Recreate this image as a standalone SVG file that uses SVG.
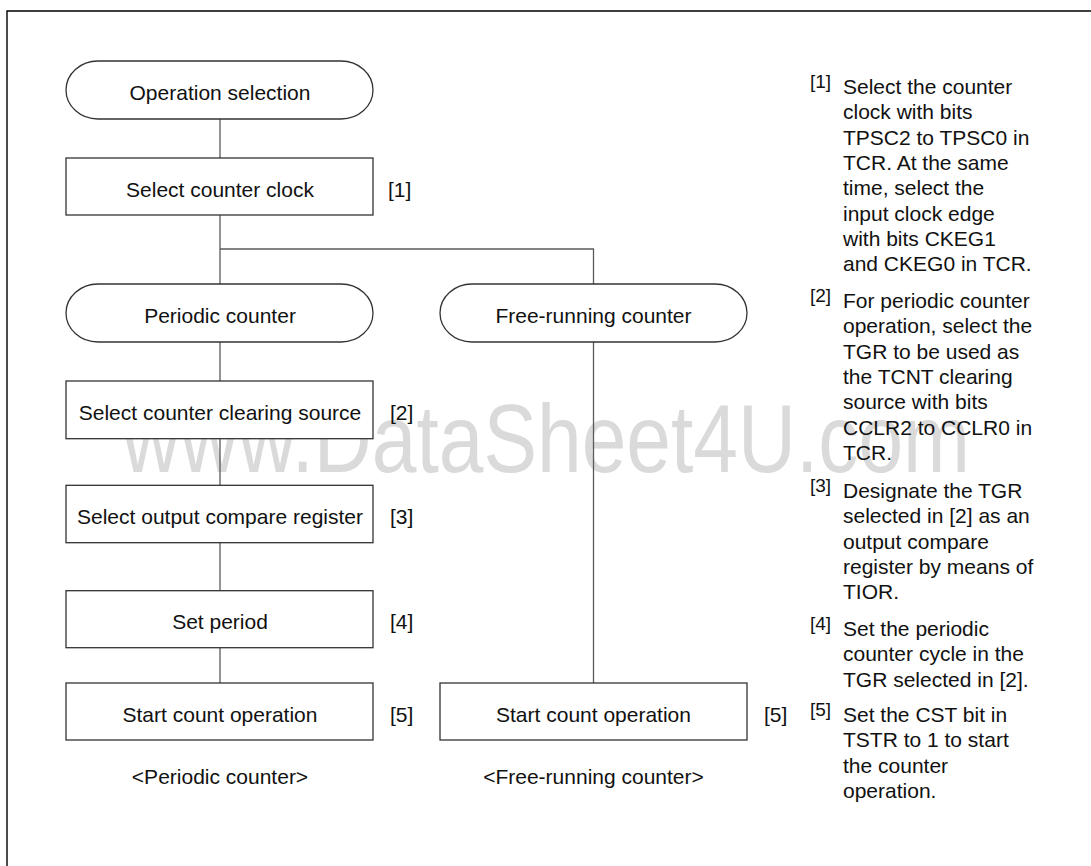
<svg xmlns="http://www.w3.org/2000/svg" width="1091" height="866" viewBox="0 0 1091 866">
<style>
text{font-family:"Liberation Sans",Arial,sans-serif;fill:#111}
.t{font-size:21px}
.m{text-anchor:middle}
.n{font-size:19px}
.box{fill:#fff;stroke:#333;stroke-width:1.3}
.ln{fill:none;stroke:#5a5a5a;stroke-width:1.3}
.wm{font-size:80px;fill:#dadada}
</style>
<rect width="1091" height="866" fill="#fff"/>
<path d="M7,866 V11 H1091" fill="none" stroke="#000" stroke-width="1.4"/>
<g transform="translate(122,472) scale(1,1.2)"><text class="wm" x="0" y="0" textLength="848" lengthAdjust="spacingAndGlyphs">www.DataSheet4U.com</text></g>
<g id="connectors">
<path class="ln" d="M220,119 V158"/>
<path class="ln" d="M220,215 V284"/>
<path class="ln" d="M220,249 H593.5 V284"/>
<path class="ln" d="M220,342 V381"/>
<path class="ln" d="M220,438.7 V485.3"/>
<path class="ln" d="M220,542.7 V590.7"/>
<path class="ln" d="M220,647.7 V683"/>
<path class="ln" d="M593.5,342 V683"/>
</g>
<g id="op-select"><rect class="box" x="66" y="61" width="307" height="58" rx="32" ry="29"/><text class="t m" x="220" y="100">Operation selection</text></g>
<g id="sel-clock"><rect class="box" x="66" y="158" width="307" height="57"/><text class="t m" x="220" y="197">Select counter clock</text><text class="t" x="388" y="197">[1]</text></g>
<g id="periodic"><rect class="box" x="66" y="284" width="307" height="58" rx="32" ry="29"/><text class="t m" x="220" y="323">Periodic counter</text></g>
<g id="free"><rect class="box" x="440" y="284" width="307" height="58" rx="32" ry="29"/><text class="t m" x="593.5" y="323">Free-running counter</text></g>
<g id="sel-clear"><rect class="box" x="66" y="381" width="307" height="57.7"/><text class="t m" x="220" y="420">Select counter clearing source</text><text class="t" x="390" y="420">[2]</text></g>
<g id="sel-ocr"><rect class="box" x="66" y="485.3" width="307" height="57.4"/><text class="t m" x="220" y="524">Select output compare register</text><text class="t" x="390" y="524">[3]</text></g>
<g id="set-period"><rect class="box" x="66" y="590.7" width="307" height="57"/><text class="t m" x="220" y="629">Set period</text><text class="t" x="390" y="629">[4]</text></g>
<g id="start-p"><rect class="box" x="66" y="683" width="307" height="57"/><text class="t m" x="220" y="721.5">Start count operation</text><text class="t" x="390" y="721.5">[5]</text></g>
<g id="start-f"><rect class="box" x="440" y="683" width="307" height="57"/><text class="t m" x="593.5" y="721.5">Start count operation</text><text class="t" x="764" y="721.5">[5]</text></g>
<g id="captions">
<text class="t m" x="220" y="784">&lt;Periodic counter&gt;</text>
<text class="t m" x="593.5" y="784">&lt;Free-running counter&gt;</text>
</g>
<g id="notes">
<text class="n" x="810" y="88">[1]</text>
<text class="t" x="843"><tspan x="843" y="94">Select the counter</tspan><tspan x="843" y="119.3">clock with bits</tspan><tspan x="843" y="144.6">TPSC2 to TPSC0 in</tspan><tspan x="843" y="170">TCR. At the same</tspan><tspan x="843" y="195.2">time, select the</tspan><tspan x="843" y="220.5">input clock edge</tspan><tspan x="843" y="245.8">with bits CKEG1</tspan><tspan x="843" y="271">and CKEG0 in TCR.</tspan></text>
<text class="n" x="810" y="302">[2]</text>
<text class="t" x="843"><tspan x="843" y="308">For periodic counter</tspan><tspan x="843" y="333.3">operation, select the</tspan><tspan x="843" y="358.6">TGR to be used as</tspan><tspan x="843" y="384">the TCNT clearing</tspan><tspan x="843" y="409.2">source with bits</tspan><tspan x="843" y="434.5">CCLR2 to CCLR0 in</tspan><tspan x="843" y="459.8">TCR.</tspan></text>
<text class="n" x="810" y="492">[3]</text>
<text class="t" x="843"><tspan x="843" y="498">Designate the TGR</tspan><tspan x="843" y="523.3">selected in [2] as an</tspan><tspan x="843" y="548.6">output compare</tspan><tspan x="843" y="574">register by means of</tspan><tspan x="843" y="599.2">TIOR.</tspan></text>
<text class="n" x="810" y="630">[4]</text>
<text class="t" x="843"><tspan x="843" y="636">Set the periodic</tspan><tspan x="843" y="661.3">counter cycle in the</tspan><tspan x="843" y="686.6">TGR selected in [2].</tspan></text>
<text class="n" x="810" y="716">[5]</text>
<text class="t" x="843"><tspan x="843" y="722">Set the CST bit in</tspan><tspan x="843" y="747.3">TSTR to 1 to start</tspan><tspan x="843" y="772.6">the counter</tspan><tspan x="843" y="798">operation.</tspan></text>
</g>
</svg>
